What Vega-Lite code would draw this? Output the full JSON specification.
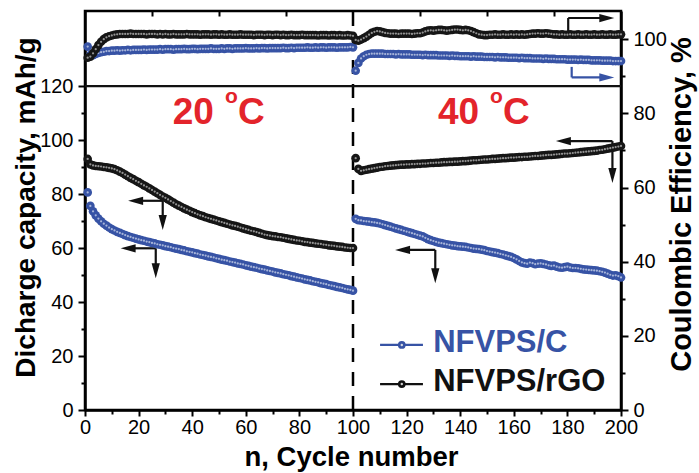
{
"$schema":"https://vega.github.io/schema/vega-lite/v6.json",
"width":536,"height":399,"autosize":"none",
"padding":{"left":85,"top":11,"right":78,"bottom":63},
"background":"white",
"config":{
 "view":{"stroke":"#000","strokeWidth":2.5},
 "axis":{"grid":false,"domainColor":"#000","domainWidth":2.5,"tickColor":"#000","tickWidth":2,"labelFont":"Liberation Sans","labelFontSize":20,"labelColor":"#000","titleFont":"Liberation Sans","titleFontSize":28,"titleFontWeight":"bold","titleColor":"#000","labelOverlap":false,"labelBound":false,"labelFlush":false}
},
"datasets":{
"d":[
{"n":1,"s":"C","cap":80.6,"ce":98.0},{"n":2,"s":"C","cap":75.6,"ce":95.8},{"n":3,"s":"C","cap":73.6,"ce":95.7},{"n":4,"s":"C","cap":72.1,"ce":96.0},{"n":5,"s":"C","cap":70.9,"ce":96.3},{"n":6,"s":"C","cap":69.9,"ce":96.5},{"n":7,"s":"C","cap":69.0,"ce":96.6},{"n":8,"s":"C","cap":68.3,"ce":96.8},{"n":9,"s":"C","cap":67.6,"ce":96.8},{"n":10,"s":"C","cap":67.0,"ce":96.9},
{"n":11,"s":"C","cap":66.5,"ce":96.9},{"n":12,"s":"C","cap":66.0,"ce":97.0},{"n":13,"s":"C","cap":65.6,"ce":96.9},{"n":14,"s":"C","cap":65.2,"ce":97.0},{"n":15,"s":"C","cap":64.8,"ce":97.0},{"n":16,"s":"C","cap":64.4,"ce":97.1},{"n":17,"s":"C","cap":64.1,"ce":97.0},{"n":18,"s":"C","cap":63.8,"ce":97.1},{"n":19,"s":"C","cap":63.5,"ce":97.1},{"n":20,"s":"C","cap":63.2,"ce":97.1},
{"n":21,"s":"C","cap":62.9,"ce":97.1},{"n":22,"s":"C","cap":62.7,"ce":97.2},{"n":23,"s":"C","cap":62.4,"ce":97.1},{"n":24,"s":"C","cap":62.2,"ce":97.2},{"n":25,"s":"C","cap":61.9,"ce":97.2},{"n":26,"s":"C","cap":61.7,"ce":97.2},{"n":27,"s":"C","cap":61.4,"ce":97.2},{"n":28,"s":"C","cap":61.2,"ce":97.3},{"n":29,"s":"C","cap":61.0,"ce":97.2},{"n":30,"s":"C","cap":60.7,"ce":97.3},
{"n":31,"s":"C","cap":60.5,"ce":97.3},{"n":32,"s":"C","cap":60.3,"ce":97.3},{"n":33,"s":"C","cap":60.0,"ce":97.2},{"n":34,"s":"C","cap":59.8,"ce":97.3},{"n":35,"s":"C","cap":59.6,"ce":97.3},{"n":36,"s":"C","cap":59.3,"ce":97.3},{"n":37,"s":"C","cap":59.1,"ce":97.4},{"n":38,"s":"C","cap":58.8,"ce":97.3},{"n":39,"s":"C","cap":58.6,"ce":97.3},{"n":40,"s":"C","cap":58.4,"ce":97.4},
{"n":41,"s":"C","cap":58.1,"ce":97.4},{"n":42,"s":"C","cap":57.9,"ce":97.3},{"n":43,"s":"C","cap":57.6,"ce":97.4},{"n":44,"s":"C","cap":57.4,"ce":97.4},{"n":45,"s":"C","cap":57.2,"ce":97.4},{"n":46,"s":"C","cap":56.9,"ce":97.4},{"n":47,"s":"C","cap":56.7,"ce":97.5},{"n":48,"s":"C","cap":56.5,"ce":97.4},{"n":49,"s":"C","cap":56.2,"ce":97.4},{"n":50,"s":"C","cap":56.0,"ce":97.4},
{"n":51,"s":"C","cap":55.7,"ce":97.5},{"n":52,"s":"C","cap":55.5,"ce":97.4},{"n":53,"s":"C","cap":55.3,"ce":97.5},{"n":54,"s":"C","cap":55.0,"ce":97.5},{"n":55,"s":"C","cap":54.8,"ce":97.4},{"n":56,"s":"C","cap":54.6,"ce":97.5},{"n":57,"s":"C","cap":54.3,"ce":97.5},{"n":58,"s":"C","cap":54.1,"ce":97.5},{"n":59,"s":"C","cap":53.9,"ce":97.5},{"n":60,"s":"C","cap":53.6,"ce":97.6},
{"n":61,"s":"C","cap":53.4,"ce":97.5},{"n":62,"s":"C","cap":53.1,"ce":97.5},{"n":63,"s":"C","cap":52.9,"ce":97.5},{"n":64,"s":"C","cap":52.7,"ce":97.6},{"n":65,"s":"C","cap":52.4,"ce":97.5},{"n":66,"s":"C","cap":52.2,"ce":97.6},{"n":67,"s":"C","cap":52.0,"ce":97.6},{"n":68,"s":"C","cap":51.7,"ce":97.5},{"n":69,"s":"C","cap":51.5,"ce":97.6},{"n":70,"s":"C","cap":51.3,"ce":97.6},
{"n":71,"s":"C","cap":51.0,"ce":97.6},{"n":72,"s":"C","cap":50.8,"ce":97.6},{"n":73,"s":"C","cap":50.6,"ce":97.6},{"n":74,"s":"C","cap":50.3,"ce":97.7},{"n":75,"s":"C","cap":50.1,"ce":97.6},{"n":76,"s":"C","cap":49.9,"ce":97.6},{"n":77,"s":"C","cap":49.6,"ce":97.7},{"n":78,"s":"C","cap":49.4,"ce":97.6},{"n":79,"s":"C","cap":49.1,"ce":97.7},{"n":80,"s":"C","cap":48.9,"ce":97.7},
{"n":81,"s":"C","cap":48.7,"ce":97.7},{"n":82,"s":"C","cap":48.4,"ce":97.7},{"n":83,"s":"C","cap":48.2,"ce":97.8},{"n":84,"s":"C","cap":48.0,"ce":97.7},{"n":85,"s":"C","cap":47.7,"ce":97.7},{"n":86,"s":"C","cap":47.5,"ce":97.8},{"n":87,"s":"C","cap":47.3,"ce":97.7},{"n":88,"s":"C","cap":47.0,"ce":97.8},{"n":89,"s":"C","cap":46.8,"ce":97.8},{"n":90,"s":"C","cap":46.6,"ce":97.7},
{"n":91,"s":"C","cap":46.3,"ce":97.8},{"n":92,"s":"C","cap":46.1,"ce":97.8},{"n":93,"s":"C","cap":45.9,"ce":97.8},{"n":94,"s":"C","cap":45.6,"ce":97.7},{"n":95,"s":"C","cap":45.4,"ce":97.8},{"n":96,"s":"C","cap":45.2,"ce":97.8},{"n":97,"s":"C","cap":44.9,"ce":97.8},{"n":98,"s":"C","cap":44.7,"ce":97.8},{"n":99,"s":"C","cap":44.5,"ce":97.9},{"n":100,"s":"C","cap":44.2,"ce":97.8},
{"n":101,"s":"C","cap":70.8,"ce":91.5},{"n":102,"s":"C","cap":70.3,"ce":93.6},{"n":103,"s":"C","cap":70.2,"ce":94.8},{"n":104,"s":"C","cap":70.0,"ce":95.4},{"n":105,"s":"C","cap":69.9,"ce":95.8},{"n":106,"s":"C","cap":69.8,"ce":96.0},{"n":107,"s":"C","cap":69.6,"ce":96.1},{"n":108,"s":"C","cap":69.5,"ce":96.1},{"n":109,"s":"C","cap":69.3,"ce":96.1},{"n":110,"s":"C","cap":69.1,"ce":96.1},
{"n":111,"s":"C","cap":68.8,"ce":96.1},{"n":112,"s":"C","cap":68.5,"ce":96.0},{"n":113,"s":"C","cap":68.2,"ce":96.0},{"n":114,"s":"C","cap":67.9,"ce":96.0},{"n":115,"s":"C","cap":67.6,"ce":96.0},{"n":116,"s":"C","cap":67.3,"ce":95.9},{"n":117,"s":"C","cap":67.0,"ce":96.0},{"n":118,"s":"C","cap":66.7,"ce":95.9},{"n":119,"s":"C","cap":66.4,"ce":95.9},{"n":120,"s":"C","cap":66.1,"ce":95.9},
{"n":121,"s":"C","cap":65.8,"ce":95.9},{"n":122,"s":"C","cap":65.5,"ce":95.8},{"n":123,"s":"C","cap":65.2,"ce":95.8},{"n":124,"s":"C","cap":64.9,"ce":95.8},{"n":125,"s":"C","cap":64.6,"ce":95.8},{"n":126,"s":"C","cap":64.3,"ce":95.7},{"n":127,"s":"C","cap":63.8,"ce":95.8},{"n":128,"s":"C","cap":63.3,"ce":95.7},{"n":129,"s":"C","cap":62.9,"ce":95.7},{"n":130,"s":"C","cap":62.6,"ce":95.7},
{"n":131,"s":"C","cap":62.3,"ce":95.7},{"n":132,"s":"C","cap":62.0,"ce":95.6},{"n":133,"s":"C","cap":61.8,"ce":95.6},{"n":134,"s":"C","cap":61.6,"ce":95.6},{"n":135,"s":"C","cap":61.4,"ce":95.6},{"n":136,"s":"C","cap":61.2,"ce":95.5},{"n":137,"s":"C","cap":61.0,"ce":95.6},{"n":138,"s":"C","cap":60.9,"ce":95.5},{"n":139,"s":"C","cap":60.7,"ce":95.5},{"n":140,"s":"C","cap":60.6,"ce":95.4},
{"n":141,"s":"C","cap":60.5,"ce":95.4},{"n":142,"s":"C","cap":60.4,"ce":95.4},{"n":143,"s":"C","cap":60.2,"ce":95.4},{"n":144,"s":"C","cap":60.0,"ce":95.3},{"n":145,"s":"C","cap":59.8,"ce":95.4},{"n":146,"s":"C","cap":59.7,"ce":95.3},{"n":147,"s":"C","cap":59.6,"ce":95.3},{"n":148,"s":"C","cap":59.4,"ce":95.3},{"n":149,"s":"C","cap":59.2,"ce":95.2},{"n":150,"s":"C","cap":58.9,"ce":95.2},
{"n":151,"s":"C","cap":58.7,"ce":95.2},{"n":152,"s":"C","cap":58.5,"ce":95.2},{"n":153,"s":"C","cap":58.3,"ce":95.1},{"n":154,"s":"C","cap":58.1,"ce":95.2},{"n":155,"s":"C","cap":57.8,"ce":95.1},{"n":156,"s":"C","cap":57.6,"ce":95.1},{"n":157,"s":"C","cap":57.3,"ce":95.1},{"n":158,"s":"C","cap":57.0,"ce":95.0},{"n":159,"s":"C","cap":56.7,"ce":95.0},{"n":160,"s":"C","cap":56.3,"ce":95.0},
{"n":161,"s":"C","cap":55.8,"ce":95.0},{"n":162,"s":"C","cap":55.2,"ce":94.9},{"n":163,"s":"C","cap":54.7,"ce":95.0},{"n":164,"s":"C","cap":54.4,"ce":94.9},{"n":165,"s":"C","cap":54.2,"ce":94.9},{"n":166,"s":"C","cap":54.6,"ce":94.9},{"n":167,"s":"C","cap":54.4,"ce":94.8},{"n":168,"s":"C","cap":54.0,"ce":94.8},{"n":169,"s":"C","cap":54.2,"ce":94.8},{"n":170,"s":"C","cap":54.3,"ce":94.8},
{"n":171,"s":"C","cap":54.1,"ce":94.7},{"n":172,"s":"C","cap":53.9,"ce":94.8},{"n":173,"s":"C","cap":53.6,"ce":94.7},{"n":174,"s":"C","cap":53.4,"ce":94.7},{"n":175,"s":"C","cap":53.5,"ce":94.7},{"n":176,"s":"C","cap":53.1,"ce":94.6},{"n":177,"s":"C","cap":52.8,"ce":94.6},{"n":178,"s":"C","cap":52.7,"ce":94.6},{"n":179,"s":"C","cap":52.9,"ce":94.6},{"n":180,"s":"C","cap":53.1,"ce":94.5},
{"n":181,"s":"C","cap":52.8,"ce":94.5},{"n":182,"s":"C","cap":52.6,"ce":94.5},{"n":183,"s":"C","cap":52.6,"ce":94.5},{"n":184,"s":"C","cap":52.5,"ce":94.4},{"n":185,"s":"C","cap":52.3,"ce":94.5},{"n":186,"s":"C","cap":52.1,"ce":94.4},{"n":187,"s":"C","cap":52.0,"ce":94.4},{"n":188,"s":"C","cap":51.9,"ce":94.4},{"n":189,"s":"C","cap":51.8,"ce":94.3},{"n":190,"s":"C","cap":51.7,"ce":94.3},
{"n":191,"s":"C","cap":51.6,"ce":94.3},{"n":192,"s":"C","cap":51.4,"ce":94.3},{"n":193,"s":"C","cap":51.2,"ce":94.2},{"n":194,"s":"C","cap":50.9,"ce":94.2},{"n":195,"s":"C","cap":50.5,"ce":94.2},{"n":196,"s":"C","cap":50.1,"ce":94.2},{"n":197,"s":"C","cap":49.8,"ce":94.1},{"n":198,"s":"C","cap":49.9,"ce":94.1},{"n":199,"s":"C","cap":49.6,"ce":94.1},{"n":200,"s":"C","cap":49.1,"ce":94.1},
{"n":1,"s":"G","cap":93.0,"ce":95.0},{"n":2,"s":"G","cap":91.0,"ce":95.3},{"n":3,"s":"G","cap":90.6,"ce":96.2},{"n":4,"s":"G","cap":90.4,"ce":97.3},{"n":5,"s":"G","cap":90.3,"ce":98.4},{"n":6,"s":"G","cap":90.2,"ce":99.3},{"n":7,"s":"G","cap":90.0,"ce":100.0},{"n":8,"s":"G","cap":89.9,"ce":100.5},{"n":9,"s":"G","cap":89.7,"ce":100.8},{"n":10,"s":"G","cap":89.5,"ce":101.0},
{"n":11,"s":"G","cap":89.2,"ce":101.2},{"n":12,"s":"G","cap":88.8,"ce":101.3},{"n":13,"s":"G","cap":88.3,"ce":101.4},{"n":14,"s":"G","cap":87.8,"ce":101.4},{"n":15,"s":"G","cap":87.2,"ce":101.4},{"n":16,"s":"G","cap":86.6,"ce":101.4},{"n":17,"s":"G","cap":86.0,"ce":101.5},{"n":18,"s":"G","cap":85.5,"ce":101.4},{"n":19,"s":"G","cap":84.9,"ce":101.4},{"n":20,"s":"G","cap":84.4,"ce":101.4},
{"n":21,"s":"G","cap":83.8,"ce":101.4},{"n":22,"s":"G","cap":83.2,"ce":101.4},{"n":23,"s":"G","cap":82.7,"ce":101.3},{"n":24,"s":"G","cap":82.1,"ce":101.4},{"n":25,"s":"G","cap":81.5,"ce":101.4},{"n":26,"s":"G","cap":80.9,"ce":101.4},{"n":27,"s":"G","cap":80.3,"ce":101.3},{"n":28,"s":"G","cap":79.7,"ce":101.4},{"n":29,"s":"G","cap":79.1,"ce":101.3},{"n":30,"s":"G","cap":78.6,"ce":101.4},
{"n":31,"s":"G","cap":78.0,"ce":101.3},{"n":32,"s":"G","cap":77.4,"ce":101.3},{"n":33,"s":"G","cap":76.8,"ce":101.4},{"n":34,"s":"G","cap":76.2,"ce":101.3},{"n":35,"s":"G","cap":75.7,"ce":101.3},{"n":36,"s":"G","cap":75.2,"ce":101.3},{"n":37,"s":"G","cap":74.7,"ce":101.3},{"n":38,"s":"G","cap":74.2,"ce":101.4},{"n":39,"s":"G","cap":73.8,"ce":101.3},{"n":40,"s":"G","cap":73.3,"ce":101.3},
{"n":41,"s":"G","cap":72.9,"ce":101.3},{"n":42,"s":"G","cap":72.5,"ce":101.3},{"n":43,"s":"G","cap":72.1,"ce":101.2},{"n":44,"s":"G","cap":71.8,"ce":101.3},{"n":45,"s":"G","cap":71.4,"ce":101.3},{"n":46,"s":"G","cap":71.1,"ce":101.3},{"n":47,"s":"G","cap":70.8,"ce":101.2},{"n":48,"s":"G","cap":70.5,"ce":101.3},{"n":49,"s":"G","cap":70.2,"ce":101.3},{"n":50,"s":"G","cap":69.9,"ce":101.2},
{"n":51,"s":"G","cap":69.6,"ce":101.3},{"n":52,"s":"G","cap":69.3,"ce":101.2},{"n":53,"s":"G","cap":69.0,"ce":101.2},{"n":54,"s":"G","cap":68.7,"ce":101.3},{"n":55,"s":"G","cap":68.4,"ce":101.2},{"n":56,"s":"G","cap":68.2,"ce":101.2},{"n":57,"s":"G","cap":67.9,"ce":101.2},{"n":58,"s":"G","cap":67.6,"ce":101.3},{"n":59,"s":"G","cap":67.3,"ce":101.2},{"n":60,"s":"G","cap":67.0,"ce":101.2},
{"n":61,"s":"G","cap":66.7,"ce":101.2},{"n":62,"s":"G","cap":66.4,"ce":101.2},{"n":63,"s":"G","cap":66.2,"ce":101.1},{"n":64,"s":"G","cap":65.9,"ce":101.2},{"n":65,"s":"G","cap":65.6,"ce":101.2},{"n":66,"s":"G","cap":65.3,"ce":101.2},{"n":67,"s":"G","cap":65.0,"ce":101.1},{"n":68,"s":"G","cap":64.8,"ce":101.2},{"n":69,"s":"G","cap":64.6,"ce":101.2},{"n":70,"s":"G","cap":64.4,"ce":101.1},
{"n":71,"s":"G","cap":64.3,"ce":101.2},{"n":72,"s":"G","cap":64.1,"ce":101.2},{"n":73,"s":"G","cap":64.0,"ce":101.1},{"n":74,"s":"G","cap":63.8,"ce":101.2},{"n":75,"s":"G","cap":63.6,"ce":101.1},{"n":76,"s":"G","cap":63.4,"ce":101.1},{"n":77,"s":"G","cap":63.2,"ce":101.2},{"n":78,"s":"G","cap":63.0,"ce":101.1},{"n":79,"s":"G","cap":62.8,"ce":101.1},{"n":80,"s":"G","cap":62.7,"ce":101.1},
{"n":81,"s":"G","cap":62.5,"ce":101.2},{"n":82,"s":"G","cap":62.3,"ce":101.1},{"n":83,"s":"G","cap":62.2,"ce":101.1},{"n":84,"s":"G","cap":62.0,"ce":101.1},{"n":85,"s":"G","cap":61.9,"ce":101.1},{"n":86,"s":"G","cap":61.7,"ce":101.1},{"n":87,"s":"G","cap":61.6,"ce":101.0},{"n":88,"s":"G","cap":61.5,"ce":101.1},{"n":89,"s":"G","cap":61.3,"ce":101.1},{"n":90,"s":"G","cap":61.2,"ce":101.1},
{"n":91,"s":"G","cap":61.0,"ce":101.0},{"n":92,"s":"G","cap":60.9,"ce":101.1},{"n":93,"s":"G","cap":60.8,"ce":101.1},{"n":94,"s":"G","cap":60.6,"ce":101.0},{"n":95,"s":"G","cap":60.5,"ce":101.1},{"n":96,"s":"G","cap":60.4,"ce":101.0},{"n":97,"s":"G","cap":60.2,"ce":101.0},{"n":98,"s":"G","cap":60.1,"ce":101.1},{"n":99,"s":"G","cap":60.0,"ce":101.0},{"n":100,"s":"G","cap":60.0,"ce":100.9},
{"n":101,"s":"G","cap":93.3,"ce":99.8},{"n":102,"s":"G","cap":89.3,"ce":99.6},{"n":103,"s":"G","cap":88.6,"ce":99.9},{"n":104,"s":"G","cap":88.8,"ce":100.3},{"n":105,"s":"G","cap":89.0,"ce":100.7},{"n":106,"s":"G","cap":89.2,"ce":101.2},{"n":107,"s":"G","cap":89.4,"ce":101.7},{"n":108,"s":"G","cap":89.6,"ce":102.0},{"n":109,"s":"G","cap":89.8,"ce":102.2},{"n":110,"s":"G","cap":90.0,"ce":102.1},
{"n":111,"s":"G","cap":90.1,"ce":101.9},{"n":112,"s":"G","cap":90.3,"ce":101.7},{"n":113,"s":"G","cap":90.4,"ce":101.6},{"n":114,"s":"G","cap":90.5,"ce":101.5},{"n":115,"s":"G","cap":90.6,"ce":101.5},{"n":116,"s":"G","cap":90.7,"ce":101.5},{"n":117,"s":"G","cap":90.8,"ce":101.4},{"n":118,"s":"G","cap":90.9,"ce":101.5},{"n":119,"s":"G","cap":90.9,"ce":101.5},{"n":120,"s":"G","cap":91.0,"ce":101.5},
{"n":121,"s":"G","cap":91.0,"ce":101.5},{"n":122,"s":"G","cap":91.1,"ce":101.4},{"n":123,"s":"G","cap":91.1,"ce":101.5},{"n":124,"s":"G","cap":91.2,"ce":101.6},{"n":125,"s":"G","cap":91.2,"ce":101.6},{"n":126,"s":"G","cap":91.3,"ce":101.8},{"n":127,"s":"G","cap":91.3,"ce":102.1},{"n":128,"s":"G","cap":91.4,"ce":102.3},{"n":129,"s":"G","cap":91.5,"ce":102.4},{"n":130,"s":"G","cap":91.5,"ce":102.3},
{"n":131,"s":"G","cap":91.6,"ce":102.4},{"n":132,"s":"G","cap":91.6,"ce":102.5},{"n":133,"s":"G","cap":91.7,"ce":102.5},{"n":134,"s":"G","cap":91.8,"ce":102.4},{"n":135,"s":"G","cap":91.8,"ce":102.3},{"n":136,"s":"G","cap":91.9,"ce":102.4},{"n":137,"s":"G","cap":91.9,"ce":102.5},{"n":138,"s":"G","cap":92.0,"ce":102.6},{"n":139,"s":"G","cap":92.0,"ce":102.6},{"n":140,"s":"G","cap":92.1,"ce":102.5},
{"n":141,"s":"G","cap":92.2,"ce":102.4},{"n":142,"s":"G","cap":92.2,"ce":102.5},{"n":143,"s":"G","cap":92.3,"ce":102.4},{"n":144,"s":"G","cap":92.4,"ce":102.2},{"n":145,"s":"G","cap":92.5,"ce":101.9},{"n":146,"s":"G","cap":92.5,"ce":101.6},{"n":147,"s":"G","cap":92.6,"ce":101.3},{"n":148,"s":"G","cap":92.7,"ce":101.2},{"n":149,"s":"G","cap":92.8,"ce":101.1},{"n":150,"s":"G","cap":92.8,"ce":101.1},
{"n":151,"s":"G","cap":92.9,"ce":101.2},{"n":152,"s":"G","cap":93.0,"ce":101.2},{"n":153,"s":"G","cap":93.0,"ce":101.3},{"n":154,"s":"G","cap":93.1,"ce":101.2},{"n":155,"s":"G","cap":93.2,"ce":101.2},{"n":156,"s":"G","cap":93.3,"ce":101.3},{"n":157,"s":"G","cap":93.3,"ce":101.2},{"n":158,"s":"G","cap":93.4,"ce":101.2},{"n":159,"s":"G","cap":93.5,"ce":101.3},{"n":160,"s":"G","cap":93.5,"ce":101.2},
{"n":161,"s":"G","cap":93.6,"ce":101.3},{"n":162,"s":"G","cap":93.7,"ce":101.2},{"n":163,"s":"G","cap":93.7,"ce":101.3},{"n":164,"s":"G","cap":93.8,"ce":101.2},{"n":165,"s":"G","cap":93.8,"ce":101.3},{"n":166,"s":"G","cap":93.9,"ce":101.4},{"n":167,"s":"G","cap":94.0,"ce":101.5},{"n":168,"s":"G","cap":94.1,"ce":101.5},{"n":169,"s":"G","cap":94.1,"ce":101.6},{"n":170,"s":"G","cap":94.2,"ce":101.5},
{"n":171,"s":"G","cap":94.3,"ce":101.5},{"n":172,"s":"G","cap":94.4,"ce":101.6},{"n":173,"s":"G","cap":94.5,"ce":101.5},{"n":174,"s":"G","cap":94.5,"ce":101.4},{"n":175,"s":"G","cap":94.6,"ce":101.3},{"n":176,"s":"G","cap":94.7,"ce":101.3},{"n":177,"s":"G","cap":94.8,"ce":101.2},{"n":178,"s":"G","cap":94.9,"ce":101.3},{"n":179,"s":"G","cap":95.0,"ce":101.2},{"n":180,"s":"G","cap":95.0,"ce":101.2},
{"n":181,"s":"G","cap":95.1,"ce":101.3},{"n":182,"s":"G","cap":95.2,"ce":101.2},{"n":183,"s":"G","cap":95.3,"ce":101.2},{"n":184,"s":"G","cap":95.4,"ce":101.3},{"n":185,"s":"G","cap":95.5,"ce":101.2},{"n":186,"s":"G","cap":95.6,"ce":101.2},{"n":187,"s":"G","cap":95.7,"ce":101.3},{"n":188,"s":"G","cap":95.8,"ce":101.2},{"n":189,"s":"G","cap":95.9,"ce":101.2},{"n":190,"s":"G","cap":96.0,"ce":101.3},
{"n":191,"s":"G","cap":96.1,"ce":101.2},{"n":192,"s":"G","cap":96.3,"ce":101.2},{"n":193,"s":"G","cap":96.4,"ce":101.3},{"n":194,"s":"G","cap":96.6,"ce":101.2},{"n":195,"s":"G","cap":96.8,"ce":101.2},{"n":196,"s":"G","cap":97.0,"ce":101.3},{"n":197,"s":"G","cap":97.2,"ce":101.2},{"n":198,"s":"G","cap":97.4,"ce":101.2},{"n":199,"s":"G","cap":97.6,"ce":101.3},{"n":200,"s":"G","cap":97.8,"ce":101.3}
],
"segs":[
{"n":0,"cap":120,"n2":200,"cap2":120,"c":"k"},
{"n":29,"cap":77.5,"n2":18.9,"cap2":77.5,"c":"k"},{"n":29,"cap":77.5,"n2":29,"cap2":69.5,"c":"k"},
{"n":26.4,"cap":59.9,"n2":16.1,"cap2":59.9,"c":"k"},{"n":26.4,"cap":59.9,"n2":26.4,"cap2":51.6,"c":"k"},
{"n":130.7,"cap":59.3,"n2":118.5,"cap2":59.3,"c":"k"},{"n":130.7,"cap":59.3,"n2":130.7,"cap2":49.7,"c":"k"},
{"n":196.8,"cap":99.6,"n2":178.5,"cap2":99.6,"c":"k"},{"n":196.8,"cap":99.6,"n2":196.8,"cap2":86.9,"c":"k"},
{"n":180.3,"cap":139.6,"n2":180.3,"cap2":145.2,"c":"k"},{"n":180.3,"cap":145.2,"n2":194.7,"cap2":145.2,"c":"k"},
{"n":181.6,"cap":127.1,"n2":181.6,"cap2":123.2,"c":"b"},{"n":181.6,"cap":123.2,"n2":194.7,"cap2":123.2,"c":"b"},
{"n":110.1,"cap":24.1,"n2":126.1,"cap2":24.1,"c":"b"},{"n":110.1,"cap":9.6,"n2":126.1,"cap2":9.6,"c":"k"}
],
"heads":[
{"n":18.9,"cap":77.5,"d":"L","c":"k"},{"n":29,"cap":69.5,"d":"D","c":"k"},
{"n":16.1,"cap":59.9,"d":"L","c":"k"},{"n":26.4,"cap":51.6,"d":"D","c":"k"},
{"n":118.5,"cap":59.3,"d":"L","c":"k"},{"n":130.7,"cap":49.7,"d":"D","c":"k"},
{"n":178.5,"cap":99.6,"d":"L","c":"k"},{"n":196.8,"cap":86.9,"d":"D","c":"k"},
{"n":194.7,"cap":145.2,"d":"R","c":"k"},{"n":194.7,"cap":123.2,"d":"R","c":"b"}
],
"legdots":[{"n":118.2,"cap":24.1,"c":"b"},{"n":118.2,"cap":9.6,"c":"k"}],
"temps":[
{"n":32.7,"cap":105.8,"t":"20"},{"n":57.1,"cap":105.8,"t":"C"},
{"n":131.7,"cap":105.8,"t":"40"},{"n":156.0,"cap":105.8,"t":"C"}
],
"sups":[{"n":52.2,"cap":113.7,"t":"o"},{"n":151.1,"cap":113.7,"t":"o"}],
"legtext":[{"n":129.9,"cap":21.6,"t":"NFVPS/C","c":"b"},{"n":129.9,"cap":7.1,"t":"NFVPS/rGO","c":"k"}]
},
"layer":[
{
 "encoding":{
  "x":{"field":"n","type":"quantitative","scale":{"domain":[0,200],"nice":false,"zero":false},
   "axis":{"orient":"bottom","values":[0,10,20,30,40,50,60,70,80,90,100,110,120,130,140,150,160,170,180,190,200],"format":"d","labelExpr":"datum.value % 20 === 0 ? datum.label : ''","tickSize":{"condition":{"test":"datum.value % 20 === 0","value":6},"value":4},"labelPadding":1,"title":"n, Cycle number","titleFontSize":27.5,"titleX":266,"titleY":55,"titleAlign":"center","titleBaseline":"alphabetic","titleAnchor":"start"}},
  "y":{"field":"cap","type":"quantitative","scale":{"domain":[0,147.8],"nice":false,"zero":false},
   "axis":{"orient":"left","values":[0,10,20,30,40,50,60,70,80,90,100,110,120],"format":"d","labelExpr":"datum.value % 20 === 0 ? datum.label : ''","tickSize":{"condition":{"test":"datum.value % 20 === 0","value":7},"value":4},"labelPadding":5,"title":"Dicharge capacity, mAh/g","titleX":-51,"titleY":196,"titleAngle":-90,"titleAlign":"center","titleBaseline":"alphabetic","titleAnchor":"start"}}
 },
 "layer":[
  {"data":{"values":[{"n":100,"cap":0,"cap2":147.8}]},"mark":{"type":"rule","strokeDash":[14,10],"strokeWidth":2.5,"color":"#000"},"encoding":{"y2":{"field":"cap2"}}},
  {"data":{"name":"segs"},"mark":{"type":"rule","strokeWidth":2.2},"encoding":{"x2":{"field":"n2"},"y2":{"field":"cap2"},"color":{"field":"c","type":"nominal","scale":{"domain":["k","b"],"range":["#111111","#3753a5"]},"legend":null}}},
  {"data":{"name":"heads"},"mark":{"type":"point","filled":true,"opacity":1,"size":225,"strokeWidth":0},"encoding":{"shape":{"field":"d","type":"nominal","scale":{"domain":["L","R","D"],"range":["M-1,0L1,-0.55L1,0.55Z","M1,0L-1,-0.55L-1,0.55Z","M0,1L-0.55,-1L0.55,-1Z"]},"legend":null},"color":{"field":"c","type":"nominal","scale":{"domain":["k","b"],"range":["#111111","#3753a5"]},"legend":null}}},
  {"data":{"name":"d"},"transform":[{"filter":"datum.s === 'C'"}],"mark":{"type":"circle","size":75,"opacity":1,"color":"#3753a5"}},
  {"data":{"name":"d"},"transform":[{"filter":"datum.s === 'C'"}],"mark":{"type":"circle","size":5,"opacity":0.65,"color":"#e4e9f6"}},
  {"data":{"name":"d"},"transform":[{"filter":"datum.s === 'G'"}],"mark":{"type":"circle","size":75,"opacity":1,"color":"#161616"}},
  {"data":{"name":"d"},"transform":[{"filter":"datum.s === 'G'"}],"mark":{"type":"circle","size":5,"opacity":0.65,"color":"#d8d8d8"}},
  {"data":{"name":"legdots"},"mark":{"type":"circle","size":60,"opacity":1},"encoding":{"color":{"field":"c","type":"nominal","scale":{"domain":["k","b"],"range":["#111111","#3753a5"]},"legend":null}}},
  {"data":{"name":"legdots"},"mark":{"type":"circle","size":6,"opacity":0.9,"color":"#e8e8e8"}},
  {"data":{"name":"temps"},"mark":{"type":"text","align":"left","baseline":"alphabetic","font":"Liberation Sans","fontSize":37,"fontWeight":"bold","color":"#e3242b"},"encoding":{"text":{"field":"t"}}},
  {"data":{"name":"sups"},"mark":{"type":"text","align":"left","baseline":"alphabetic","font":"Liberation Sans","fontSize":21,"fontWeight":"bold","color":"#e3242b"},"encoding":{"text":{"field":"t"}}},
  {"data":{"name":"legtext"},"mark":{"type":"text","align":"left","baseline":"alphabetic","font":"Liberation Sans","fontSize":31,"fontWeight":"bold"},"encoding":{"text":{"field":"t"},"color":{"field":"c","type":"nominal","scale":{"domain":["k","b"],"range":["#111111","#3753a5"]},"legend":null}}}
 ]
},
{
 "encoding":{
  "x":{"field":"n","type":"quantitative","scale":{"domain":[0,200],"nice":false,"zero":false},
   "axis":{"orient":"top","values":[25,50,75,125,150,175],"labels":false,"domain":false,"tickSize":-5,"title":null}},
  "y":{"field":"ce","type":"quantitative","scale":{"domain":[0,107.6],"nice":false,"zero":false},
   "axis":{"orient":"right","values":[0,10,20,30,40,50,60,70,80,90,100],"format":"d","labelExpr":"datum.value % 20 === 0 ? datum.label : ''","tickSize":{"condition":{"test":"datum.value % 20 === 0","value":7},"value":4},"labelPadding":5,"title":"Coulombic Efficiency, %","titleFontSize":29,"titleX":69,"titleY":193,"titleAngle":-90,"titleAlign":"center","titleBaseline":"alphabetic","titleAnchor":"start"}}
 },
 "layer":[
  {"data":{"name":"d"},"transform":[{"filter":"datum.s === 'C'"}],"mark":{"type":"circle","size":75,"opacity":1,"color":"#3753a5"}},
  {"data":{"name":"d"},"transform":[{"filter":"datum.s === 'C'"}],"mark":{"type":"circle","size":5,"opacity":0.65,"color":"#e4e9f6"}},
  {"data":{"name":"d"},"transform":[{"filter":"datum.s === 'G'"}],"mark":{"type":"circle","size":75,"opacity":1,"color":"#161616"}},
  {"data":{"name":"d"},"transform":[{"filter":"datum.s === 'G'"}],"mark":{"type":"circle","size":5,"opacity":0.65,"color":"#d8d8d8"}}
 ]
}
],
"resolve":{"scale":{"y":"independent"},"axis":{"x":"independent"}}
}
